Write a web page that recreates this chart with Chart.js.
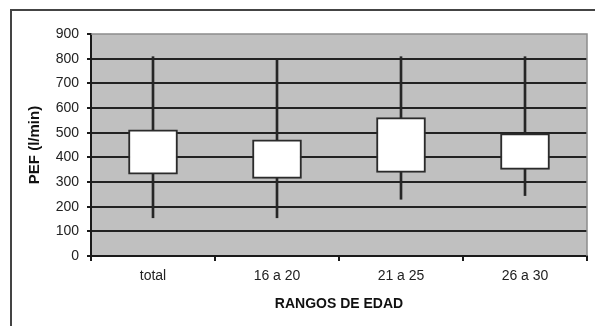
<!DOCTYPE html>
<html>
<head>
<meta charset="utf-8">
<script src="https://cdn.jsdelivr.net/npm/chart.js@4/dist/chart.umd.min.js"></script>
<style>
  html, body { margin: 0; padding: 0; background: #fff; overflow: hidden; }
  #frame { position: absolute; left: 10px; top: 9px; width: 700px; height: 500px; border: 2px solid #444; box-sizing: border-box; }
  #c { position: absolute; left: 0; top: 0; }
</style>
</head>
<body>
<div id="frame"></div>
<canvas id="c" width="595" height="326"></canvas>
<script>
// PEF (l/min) by age range: whisker ends and box limits per group
const categories = ['total', '16 a 20', '21 a 25', '26 a 30'];
const whiskerMin = [155, 155, 230, 245];
const boxLow     = [332, 315, 339, 351];
const boxHigh    = [511, 471, 561, 496];
const whiskerMax = [808, 797, 808, 808];
const yTicks = [0, 100, 200, 300, 400, 500, 600, 700, 800, 900];

const FONT = 'Liberation Sans, Arial, sans-serif';

// grey plot background with a lighter outline on the top and right
const plotArea = {
  id: 'plotArea',
  beforeDraw(chart) {
    const { ctx, chartArea: a } = chart;
    ctx.save();
    ctx.fillStyle = '#c0c0c0';
    ctx.fillRect(a.left, a.top, a.right - a.left, a.bottom - a.top);
    ctx.restore();
  },
  afterDraw(chart) {
    const { ctx, chartArea: a } = chart;
    ctx.save();
    ctx.strokeStyle = '#8c8c8c';
    ctx.lineWidth = 1.5;
    ctx.beginPath();
    ctx.moveTo(a.left, a.top);
    ctx.lineTo(a.right, a.top);
    ctx.lineTo(a.right, a.bottom);
    ctx.stroke();
    ctx.restore();
  }
};

new Chart(document.getElementById('c'), {
  type: 'bar',
  data: {
    labels: categories,
    datasets: [
      {
        label: 'rango',
        data: whiskerMin.map((v, i) => [v, whiskerMax[i]]),
        backgroundColor: '#262626',
        borderWidth: 0,
        barThickness: 2,
        grouped: false,
        order: 2
      },
      {
        label: 'caja',
        data: boxLow.map((v, i) => [v, boxHigh[i]]),
        backgroundColor: '#ffffff',
        borderColor: '#2b2b2b',
        borderWidth: 2,
        borderSkipped: false,
        barThickness: 49,
        grouped: false,
        order: 1
      }
    ]
  },
  options: {
    responsive: false,
    animation: false,
    devicePixelRatio: 1,
    layout: { padding: { top: 34, right: 8, left: 0, bottom: 0 } },
    plugins: { legend: { display: false }, tooltip: { enabled: false } },
    scales: {
      x: {
        offset: true,
        grid: { drawOnChartArea: false, drawTicks: true, tickLength: 5, color: '#1a1a1a', lineWidth: 2, offset: true },
        border: { color: '#1a1a1a', width: 2 },
        ticks: { font: { family: FONT, size: 14 }, color: '#222', padding: 7 },
        title: {
          display: true, text: 'RANGOS DE EDAD',
          font: { family: FONT, size: 14, weight: 'bold' }, color: '#111',
          padding: { top: 0, bottom: 13 }
        },
        afterFit(scale) { scale.height = 70; }
      },
      y: {
        min: 0, max: 900,
        afterBuildTicks(scale) { scale.ticks = yTicks.map(v => ({ value: v })); },
        grid: {
          color: ctx => (ctx.tick && ctx.tick.value === 900) ? 'rgba(0,0,0,0)' : '#222',
          tickColor: '#1a1a1a',
          lineWidth: 2, tickLength: 4
        },
        border: { color: '#1a1a1a', width: 2 },
        ticks: { font: { family: FONT, size: 14 }, color: '#222', padding: 8 },
        title: {
          display: true, text: 'PEF (l/min)',
          font: { family: FONT, size: 15, weight: 'bold' }, color: '#111',
          padding: { top: 26, bottom: 0 }
        },
        afterFit(scale) { scale.width = 91; }
      }
    }
  },
  plugins: [plotArea]
});
</script>
</body>
</html>
